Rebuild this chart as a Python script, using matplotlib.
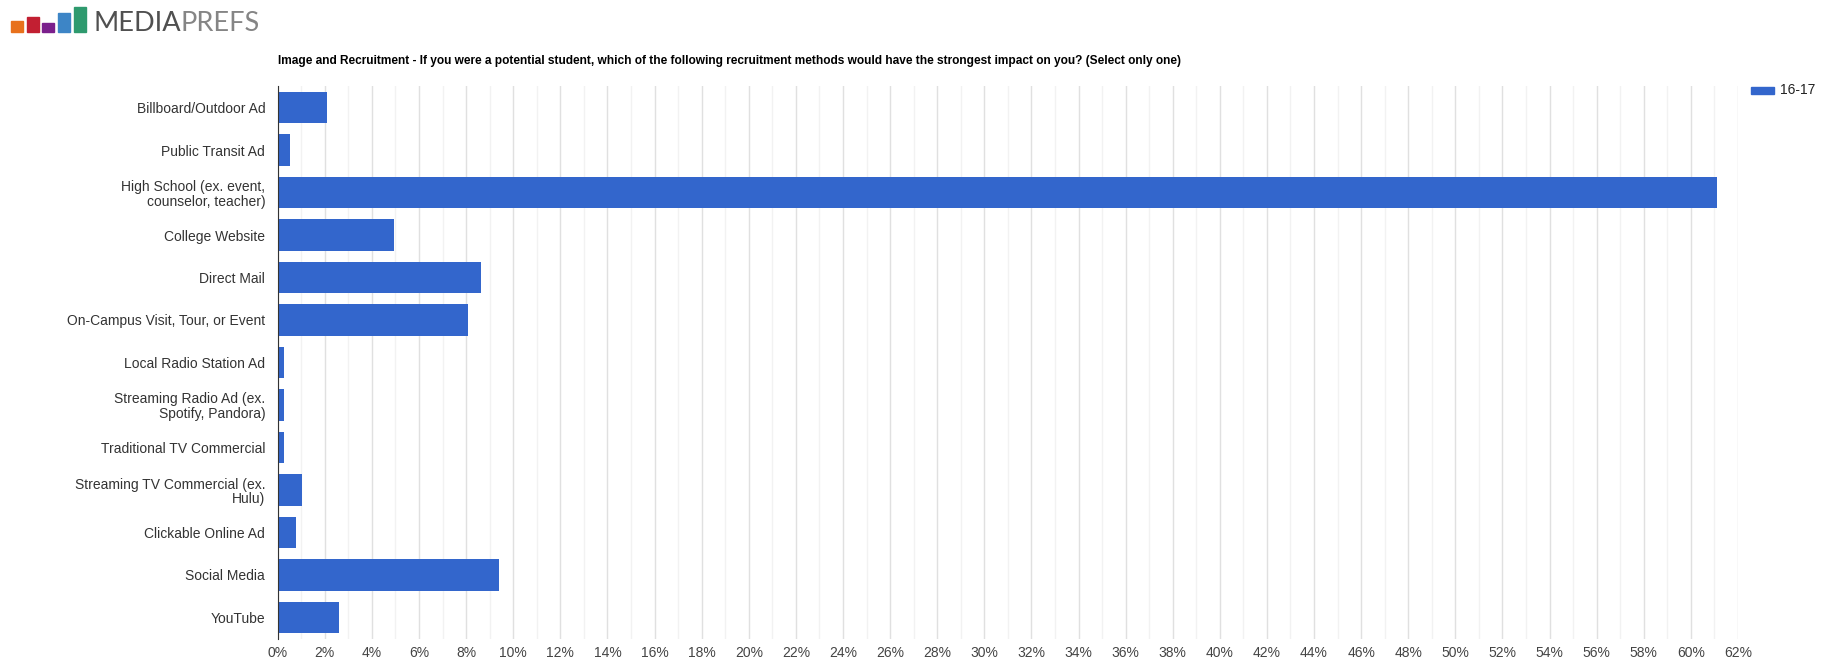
import matplotlib
matplotlib.use("Agg")
import matplotlib.pyplot as plt
from matplotlib.patches import Rectangle
from matplotlib.ticker import MultipleLocator, FuncFormatter

categories = [
    "Billboard/Outdoor Ad",
    "Public Transit Ad",
    "High School (ex. event,\ncounselor, teacher)",
    "College Website",
    "Direct Mail",
    "On-Campus Visit, Tour, or Event",
    "Local Radio Station Ad",
    "Streaming Radio Ad (ex.\nSpotify, Pandora)",
    "Traditional TV Commercial",
    "Streaming TV Commercial (ex.\nHulu)",
    "Clickable Online Ad",
    "Social Media",
    "YouTube",
]
values_16_17 = [2.1, 0.54, 61.1, 4.94, 8.63, 8.1, 0.25, 0.25, 0.25, 1.02, 0.78, 9.4, 2.6]
series_name = "16-17"
title = ("Image and Recruitment - If you were a potential student, which of the following "
         "recruitment methods would have the strongest impact on you? (Select only one)")

plt.rcParams["font.family"] = ["Liberation Sans", "DejaVu Sans"]

W, H = 1827, 661
fig = plt.figure(figsize=(W / 100, H / 100), dpi=100)

left, right, top, bottom = 277.7, 1738.0, 86.25, 638.75
ax = fig.add_axes([left / W, 1 - bottom / H, (right - left) / W, (bottom - top) / H])

ypos = list(range(len(categories)))
ax.barh(ypos, values_16_17, height=0.745, color="#3366cc", zorder=3, label=series_name)
ax.set_ylim(len(categories) - 0.5, -0.5)
ax.set_xlim(0, 62)
ax.set_yticks(ypos)
ax.set_yticklabels(categories, fontsize=10, color="#333333", linespacing=1.05)

ax.xaxis.set_major_locator(MultipleLocator(2))
ax.xaxis.set_minor_locator(MultipleLocator(1))
ax.xaxis.set_major_formatter(FuncFormatter(lambda v, p: f"{v:.0f}%"))
ax.tick_params(axis="x", which="both", length=0, labelsize=10, labelcolor="#444444", pad=5)
ax.tick_params(axis="y", length=0, pad=9)
ax.grid(axis="x", which="major", color="#e0e0e0", linewidth=1, zorder=0)
ax.grid(axis="x", which="minor", color="#f2f2f2", linewidth=1, zorder=0)

for s in ["top", "right", "bottom"]:
    ax.spines[s].set_visible(False)
ax.spines["left"].set_color("#333333")
ax.spines["left"].set_zorder(4)

fig.text(left / W, 1 - 61 / H, title, fontsize=8.6, fontweight="bold", color="#000000",
         ha="left", va="center")

# legend
fig.add_artist(Rectangle((1751 / W, 1 - 94 / H), 23 / W, 7 / H, transform=fig.transFigure,
                         color="#3366cc"))
fig.text(1780 / W, 1 - 90 / H, series_name, fontsize=10, color="#222222", ha="left", va="center")

# logo
logo = [("#e8711c", 10.7, 20.7), ("#c21f32", 26.7, 17.3), ("#7b1f8c", 42.3, 23.3),
        ("#3d85c6", 58.3, 13.3), ("#2e9a6e", 74.3, 7.3)]
for col, x0, y0 in logo:
    fig.add_artist(Rectangle((x0 / W, 1 - 31.7 / H), 11.8 / W, (31.7 - y0) / H,
                             transform=fig.transFigure, color=col))
t1 = fig.text(93 / W, 1 - 31 / H, "MEDIA", fontsize=19.5, color="#505050", ha="left",
              va="baseline", family=["Lato", "DejaVu Sans"])
fig.canvas.draw()
bb = t1.get_window_extent()
fig.text(bb.x1 / W, 1 - 31 / H, "PREFS", fontsize=19.5, color="#858585", ha="left",
         va="baseline", family=["Lato", "DejaVu Sans"])

fig.savefig("out.png", dpi=100, facecolor="white")
